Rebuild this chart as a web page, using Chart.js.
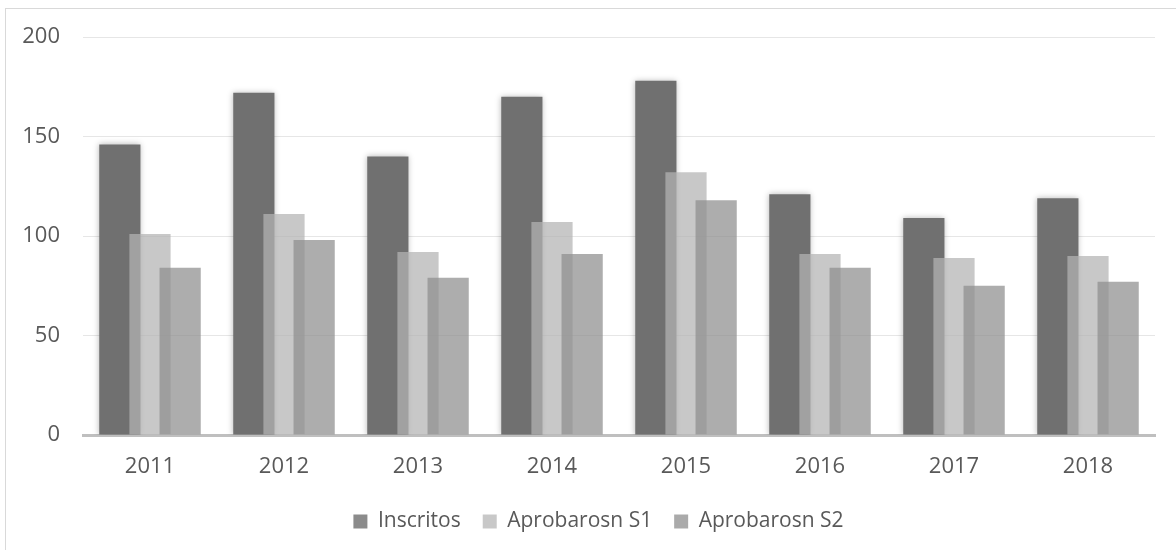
<!DOCTYPE html>
<html>
<head>
<meta charset="utf-8">
<script src="https://cdn.jsdelivr.net/npm/chart.js@4/dist/chart.umd.min.js"></script>
<style>
  html, body { margin: 0; padding: 0; background: #ffffff; }
  #wrap { position: relative; width: 1176px; height: 550px; }
  #frame { position: absolute; left: 5px; top: 8px; width: 1180px; height: 560px; border-left: 1px solid #d9d9d9; border-top: 1px solid #d9d9d9; pointer-events: none; }
  canvas { position: absolute; left: 0; top: 0; }
</style>
</head>
<body>
<div id="wrap">
  <canvas id="c" width="1176" height="550"></canvas>
  <div id="frame"></div>
</div>
<script>
const years = ['2011', '2012', '2013', '2014', '2015', '2016', '2017', '2018'];
const inscritos = [146, 172, 140, 170, 178, 121, 109, 119];
const aprobadosS1 = [101, 111, 92, 107, 132, 91, 89, 90];
const aprobadosS2 = [84, 98, 79, 91, 118, 84, 75, 77];
const seriesNames = ['Inscritos', 'Aprobarosn S1', 'Aprobarosn S2'];
const yTicks = [0, 50, 100, 150, 200];

const FONT = "'Open Sans', 'Liberation Sans', sans-serif";
const legendColors = ['#8b8b8b', '#c8c8c8', '#aaaaaa'];

// Draw datasets in index order so later series sit on top of earlier ones
const drawInOrder = {
  id: 'drawInOrder',
  beforeDatasetsDraw(chart) {
    const metas = chart.getSortedVisibleDatasetMetas();
    for (const meta of metas) chart._drawDataset(meta);
    return false;
  }
};
// soft shadow around the dark series
const barShadow = {
  id: 'barShadow',
  beforeDatasetDraw(chart, args) {
    if (args.index === 0) {
      const ctx = chart.ctx;
      ctx.save();
      ctx.shadowColor = 'rgba(0,0,0,0.28)';
      ctx.shadowBlur = 6;
    }
  },
  afterDatasetDraw(chart, args) {
    if (args.index === 0) chart.ctx.restore();
  }
};
// nudge the legend so it is centred like the original
const legendShift = {
  id: 'legendShift',
  afterUpdate(chart) {
    const l = chart.legend;
    if (l) { l.left += 21; l.right += 21; }
  }
};

new Chart(document.getElementById('c'), {
  type: 'bar',
  data: {
    labels: years,
    datasets: [
      { label: seriesNames[0], data: inscritos, backgroundColor: '#707070' },
      { label: seriesNames[1], data: aprobadosS1, backgroundColor: 'rgba(180,180,180,0.73)' },
      { label: seriesNames[2], data: aprobadosS2, backgroundColor: 'rgba(142,142,142,0.73)' }
    ]
  },
  plugins: [drawInOrder, barShadow, legendShift],
  options: {
    responsive: false,
    animation: false,
    devicePixelRatio: 1,
    categoryPercentage: 0.675,
    barPercentage: 1.367,
    layout: { padding: { left: 0, right: 21, top: 37, bottom: 8 } },
    scales: {
      x: {
        grid: { display: false, drawTicks: false },
        border: { color: '#bfbfbf', width: 3 },
        ticks: { color: '#595959', font: { family: FONT, size: 22 }, padding: 19 },
        afterFit(scale) { scale.height = 54; }
      },
      y: {
        min: 0, max: 200,
        afterBuildTicks(scale) { scale.ticks = yTicks.map(v => ({ value: v })); },
        grid: { color: '#e6e6e6', lineWidth: 1, drawTicks: false },
        border: { display: false },
        ticks: { color: '#595959', font: { family: FONT, size: 22 }, padding: 23 },
        afterFit(scale) { scale.width = 83; }
      }
    },
    plugins: {
      tooltip: { enabled: false },
      legend: {
        position: 'bottom',
        labels: {
          color: '#595959',
          font: { family: FONT, size: 21 },
          boxWidth: 14, boxHeight: 14,
          padding: 22,
          generateLabels(chart) {
            return chart.data.datasets.map((ds, i) => ({
              text: ds.label,
              fillStyle: legendColors[i],
              strokeStyle: legendColors[i],
              lineWidth: 0,
              fontColor: '#595959',
              hidden: false,
              datasetIndex: i
            }));
          }
        }
      }
    }
  }
});
</script>
</body>
</html>
